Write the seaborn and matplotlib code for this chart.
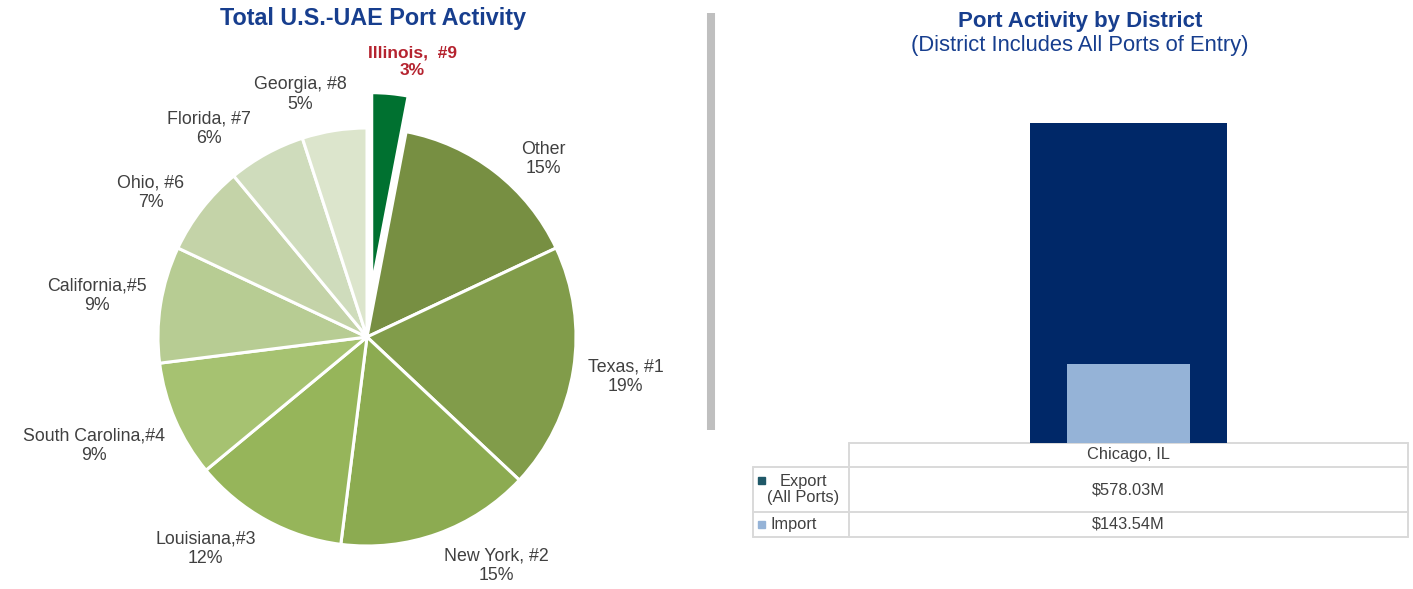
import numpy as np
import seaborn as sns
import matplotlib.pyplot as plt
from matplotlib.patches import Rectangle

sns.set_theme(style="white")
plt.rcParams['font.family'] = ['Liberation Sans', 'DejaVu Sans']

# pie data (clockwise from 12 o'clock)
states = ["Illinois,  #9", "Other", "Texas, #1", "New York, #2", "Louisiana,#3",
          "South Carolina,#4", "California,#5", "Ohio, #6", "Florida, #7", "Georgia, #8"]
shares = [3, 15, 19, 15, 12, 9, 9, 7, 6, 5]
pie_colors = ["#007130", "#778f42", "#819c4a", "#8cab51", "#96b55a",
              "#a6c271", "#b7cc93", "#c4d3a8", "#cfdcbc", "#dce5cc"]

# bar / table data
district = ["Chicago, IL"]
export_vals = [578.03]
import_vals = [143.54]
row_names = ["Export\n(All Ports)", "Import"]

W, H = 1413, 589
fig = plt.figure(figsize=(W / 100, H / 100), dpi=100)

# ---- pie ----
R = 209
cx, cy = 367, 337
span = 1.6
ax = fig.add_axes([(cx - span * R) / W, (H - cy - span * R) / H, 2 * span * R / W, 2 * span * R / H])
explode = [0.24] + [0] * (len(shares) - 1)
wedges, texts = ax.pie(shares, colors=pie_colors, startangle=90, counterclock=False,
                       explode=explode, labels=None,
                       wedgeprops=dict(edgecolor="white", linewidth=2.2))
wedges[0].set_radius(0.93)
ax.set_xlim(-span, span)
ax.set_ylim(-span, span)
ax.set_aspect("equal")
ax.axis("off")

fig.canvas.draw()
renderer = fig.canvas.get_renderer()
total = sum(shares)
ylim_low = -(H - cy - 3) / R  # keep labels inside the figure
cum = 0
for i, (name, v) in enumerate(zip(states, shares)):
    mid = 90 - (cum + v / 2) / total * 360
    cum += v
    mid = (mid + 180) % 360 - 180
    # push labels a little away from the vertical axis, like Excel does
    phi = abs(90 - abs(mid))
    shift = 11 * np.cos(np.deg2rad(phi)) ** 2 * min(1, phi / 15)
    if abs(mid) > 90:
        mid = np.sign(mid) * (abs(mid) + shift)
    else:
        mid = np.sign(mid) * (abs(mid) - shift)
    a = np.deg2rad(mid)
    pct = f"{round(v / total * 100)}%"
    if i == 0:
        t = ax.text(0, 0, f"{name}\n{pct}", ha="center", va="center", fontsize=12.5,
                    color="#b5232f", fontweight="bold", linespacing=1.2)
    else:
        t = ax.text(0, 0, f"{name}\n{pct}", ha="center", va="center", fontsize=12.8,
                    color="#404040", linespacing=1.2)
    bb = t.get_window_extent(renderer)
    hw = bb.width / 2 / R
    hh = bb.height / 2 / R
    base = 1.06 + (0.165 if i == 0 else 0)
    d = base + abs(np.cos(a)) * hw + abs(np.sin(a)) * hh
    x, y = d * np.cos(a), d * np.sin(a)
    if y - hh < ylim_low:
        y = ylim_low + hh
        x = np.sign(x) * np.sqrt(max(d ** 2 - y ** 2, x ** 2))
    t.set_position((x, y))

fig.text(373 / W, 1 - 19 / H, "Total U.S.-UAE Port Activity", ha="center", va="center",
         fontsize=16.8, fontweight="bold", color="#173e8e")

# ---- separator + table overlay ----
ov = fig.add_axes([0, 0, 1, 1])
ov.set_xlim(0, W)
ov.set_ylim(H, 0)
ov.axis("off")
ov.plot([711, 711], [13, 430], color="#bfbfbf", lw=5.8, solid_capstyle="butt")

# ---- bars ----
bx0, bx1, base_y, top_y = 849, 1408, 443, 83
bax = fig.add_axes([bx0 / W, (H - base_y) / H, (bx1 - bx0) / W, (base_y - top_y) / H])
sns.barplot(x=district, y=export_vals, color="#002868", width=0.354, saturation=1,
            linewidth=0, ax=bax)
sns.barplot(x=district, y=import_vals, color="#95b3d7", width=0.22, saturation=1,
            linewidth=0, ax=bax)
bax.set_ylim(0, 650)
bax.set_xlim(-0.5, 0.5)
bax.axis("off")

fig.text(1080 / W, 1 - 22 / H, "Port Activity by District", ha="center", va="center",
         fontsize=16, fontweight="bold", color="#173e8e")
fig.text(1080 / W, 1 - 46 / H, "(District Includes All Ports of Entry)", ha="center", va="center",
         fontsize=15.8, color="#173e8e")

# table
lc = "#d9d9d9"
lw = 1.4
xl, xm, xr = 753, 849, 1408
y0, y1, y2, y3 = 443, 467, 512, 537
ov.plot([xm, xr], [y0, y0], color=lc, lw=lw)
for yy in (y1, y2, y3):
    ov.plot([xl, xr], [yy, yy], color=lc, lw=lw)
ov.plot([xm, xm], [y0, y3], color=lc, lw=lw)
ov.plot([xr, xr], [y0, y3], color=lc, lw=lw)
ov.plot([xl, xl], [y1, y3], color=lc, lw=lw)

tc = "#404040"
fs = 11.8
ov.text((xm + xr) / 2, (y0 + y1) / 2, district[0], ha="center", va="center", fontsize=fs, color=tc)
ov.text((xm + xr) / 2, (y1 + y2) / 2, f"${export_vals[0]:.2f}M", ha="center", va="center",
        fontsize=fs, color=tc)
ov.text((xm + xr) / 2, (y2 + y3) / 2, f"${import_vals[0]:.2f}M", ha="center", va="center",
        fontsize=fs, color=tc)
ov.text(803, (y1 + y2) / 2, row_names[0], ha="center", va="center", fontsize=fs, color=tc,
        linespacing=1.1)
ov.text(770, (y2 + y3) / 2, row_names[1], ha="left", va="center", fontsize=fs, color=tc)
ov.add_patch(Rectangle((758, 477), 7, 7, color="#1f5868"))
ov.add_patch(Rectangle((758, 521), 7, 7, color="#95b3d7"))

fig.savefig("out.png", dpi=100)
